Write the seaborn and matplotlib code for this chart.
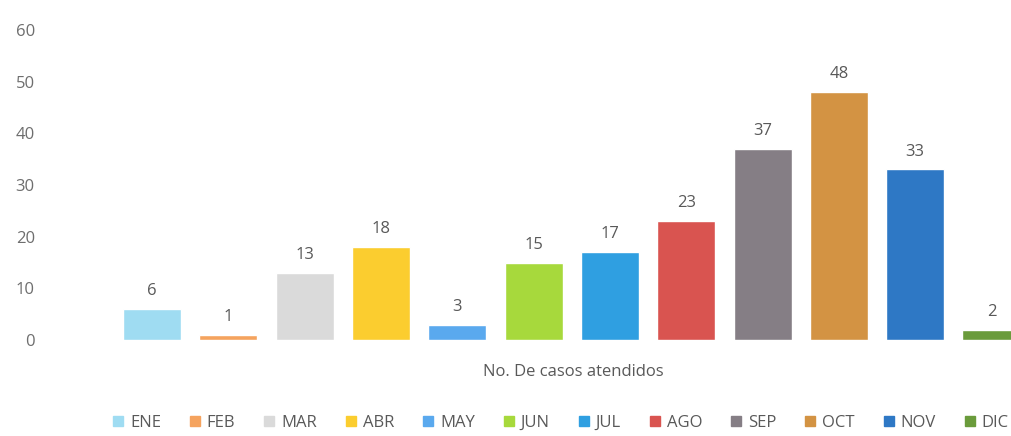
import numpy as np
import pandas as pd
import matplotlib.pyplot as plt
import matplotlib.patches as mpatches
import seaborn as sns

# data
months = ['ENE', 'FEB', 'MAR', 'ABR', 'MAY', 'JUN', 'JUL', 'AGO', 'SEP', 'OCT', 'NOV', 'DIC']
casos = [6, 1, 13, 18, 3, 15, 17, 23, 37, 48, 33, 2]
colors = ['#9fdcf2', '#f5a35e', '#dadada', '#fbcd2f', '#5aa9ee', '#a7d93c',
          '#2f9fe1', '#d95450', '#857e85', '#d39343', '#2e78c5', '#6a9b3b']

df = pd.DataFrame({'mes': months, 'casos': casos})

sns.set_style('white')
plt.rcParams['font.family'] = ['Open Sans', 'DejaVu Sans']

fig = plt.figure(figsize=(10.11, 4.36), dpi=100)
ax = fig.add_axes([114 / 1011, 1 - 340 / 436, (1011 - 114) / 1011, 310 / 436])

sns.barplot(data=df, x='mes', y='casos', hue='mes', palette=colors,
            legend=False, width=0.76, saturation=1, ax=ax)

for c in ax.containers:
    ax.bar_label(c, padding=7, fontsize=12, color='#595959')

ax.set_ylim(0, 60)
ax.set_yticks(range(0, 61, 10))
ax.set_xlim(-0.5, -0.5 + 897 / 76.3)
ax.set_xticks([])
ax.set_xlabel('')
ax.set_ylabel('')
# pad in points: label right edge ~80 px left of the axes
ax.tick_params(axis='y', labelsize=12, labelcolor='#6e6e6e', length=0, pad=57)
for s in ax.spines.values():
    s.set_visible(False)

fig.text(573 / 1011, 1 - 372 / 436, 'No. De casos atendidos', ha='center', va='center',
         fontsize=12, color='#595959')

handles = [mpatches.Patch(color=col, label=m) for m, col in zip(months, colors)]
fig.legend(handles=handles, loc='center', ncol=12, bbox_to_anchor=(561 / 1011, 1 - 423 / 436),
           frameon=False, fontsize=12, handlelength=0.6, handleheight=0.6,
           handletextpad=0.4, columnspacing=1.75, labelcolor='#595959')

fig.savefig('out.png', dpi=100)
